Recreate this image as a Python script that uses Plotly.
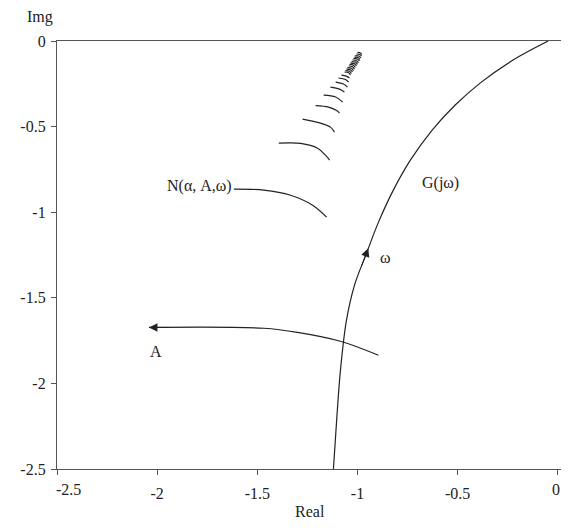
import plotly.graph_objects as go

# ---- data ----
g_real = [-1.120, -1.104, -1.085, -1.055, -1.015, -0.955, -0.895, -0.821, -0.736, -0.627, -0.512, -0.388, -0.223, -0.048]
g_imag = [-2.500, -2.216, -1.924, -1.632, -1.427, -1.240, -1.058, -0.871, -0.696, -0.520, -0.374, -0.246, -0.111, 0.000]

a_real = [-0.895, -1.085, -1.299, -1.468, -2.041]
a_imag = [-1.836, -1.754, -1.702, -1.678, -1.673]

n_real = [-1.617, -1.468, -1.334, -1.224, -1.154]
n_imag = [-0.865, -0.871, -0.901, -0.959, -1.029]

arcs_real = [
    [-1.393, -1.284, -1.199, -1.160, -1.139],
    [-1.274, -1.184, -1.135, -1.115],
    [-1.209, -1.144, -1.100, -1.090],
    [-1.169, -1.109, -1.074],
    [-1.135, -1.090, -1.065],
    [-1.109, -1.070, -1.050],
    [-1.095, -1.060, -1.044],
    [-1.080, -1.055, -1.040],
    [-1.065, -1.044, -1.035],
    [-1.060, -1.040, -1.030],
    [-1.055, -1.035, -1.025],
    [-1.050, -1.030, -1.020],
    [-1.044, -1.025, -1.015],
    [-1.040, -1.020, -1.011],
    [-1.035, -1.015, -1.005],
    [-1.030, -1.011, -1.000],
    [-1.025, -1.005, -0.995],
    [-1.020, -1.000, -0.990],
    [-1.015, -0.997, -0.988],
    [-1.011, -0.993, -0.983],
    [-1.005, -0.988, -0.980],
    [-1.000, -0.985, -0.978],
]
arcs_imag = [
    [-0.597, -0.598, -0.626, -0.667, -0.696],
    [-0.456, -0.480, -0.503, -0.532],
    [-0.377, -0.386, -0.409, -0.421],
    [-0.316, -0.327, -0.357],
    [-0.269, -0.281, -0.298],
    [-0.240, -0.251, -0.269],
    [-0.216, -0.225, -0.240],
    [-0.199, -0.205, -0.216],
    [-0.181, -0.186, -0.199],
    [-0.173, -0.177, -0.190],
    [-0.164, -0.168, -0.181],
    [-0.155, -0.159, -0.173],
    [-0.146, -0.150, -0.164],
    [-0.137, -0.142, -0.155],
    [-0.129, -0.132, -0.146],
    [-0.120, -0.123, -0.136],
    [-0.111, -0.115, -0.127],
    [-0.102, -0.105, -0.117],
    [-0.094, -0.096, -0.107],
    [-0.085, -0.088, -0.098],
    [-0.076, -0.079, -0.088],
    [-0.067, -0.070, -0.079],
]

x_ticks = [-2.5, -2, -1.5, -1, -0.5, 0]
x_ticktext = ["", "-2", "-1.5", "-1", "-0.5", ""]
y_ticks = [0, -0.5, -1, -1.5, -2, -2.5]
y_ticktext = ["0", "-0.5", "-1", "-1.5", "-2", "-2.5"]

FONT = "Liberation Serif"
LINE = "#222222"
AXC = "#555555"

fig = go.Figure()
fig.add_trace(go.Scatter(x=g_real, y=g_imag, mode="lines",
                         line=dict(color=LINE, width=1.2, shape="spline"), hoverinfo="skip"))
fig.add_trace(go.Scatter(x=a_real, y=a_imag, mode="lines",
                         line=dict(color=LINE, width=1.2, shape="spline"), hoverinfo="skip"))
fig.add_trace(go.Scatter(x=n_real, y=n_imag, mode="lines",
                         line=dict(color=LINE, width=1.2, shape="spline"), hoverinfo="skip"))
for xs, ys in zip(arcs_real, arcs_imag):
    fig.add_trace(go.Scatter(x=xs, y=ys, mode="lines",
                             line=dict(color=LINE, width=1.2, shape="spline"), hoverinfo="skip"))

ann = []
# arrowheads
ann.append(dict(x=a_real[-1], y=a_imag[-1], ax=a_real[-1] + 0.1, ay=a_imag[-1],
                xref="x", yref="y", axref="x", ayref="y", showarrow=True,
                arrowhead=2, arrowsize=1.7, arrowwidth=1, arrowcolor=LINE, text=""))
ann.append(dict(x=-0.946, y=-1.211, ax=-0.981, ay=-1.32,
                xref="x", yref="y", axref="x", ayref="y", showarrow=True,
                arrowhead=2, arrowsize=1.7, arrowwidth=1, arrowcolor=LINE, text=""))
# text labels
txt = dict(family=FONT, size=16, color="#222222")
ann.append(dict(x=-1.617, y=-0.848, xref="x", yref="y", text="N(α, A,ω)",
                showarrow=False, xanchor="right", yanchor="middle", font=txt))
ann.append(dict(x=-0.586, y=-0.830, xref="x", yref="y", text="G(jω)",
                showarrow=False, font=txt))
ann.append(dict(x=-0.860, y=-1.263, xref="x", yref="y", text="ω",
                showarrow=False, font=txt))
ann.append(dict(x=-2.007, y=-1.813, xref="x", yref="y", text="A",
                showarrow=False, font=txt))
ann.append(dict(x=-2.5, y=-2.5, xref="x", yref="y", text="-2.5", showarrow=False,
                xanchor="center", yanchor="top", xshift=11, yshift=-10, font=txt))
ann.append(dict(x=1.0, y=0, xref="paper", yref="paper", text="0", showarrow=False,
                xanchor="right", yanchor="top", xshift=-7, yshift=-10, font=txt))
ann.append(dict(x=(40 - 57) / 512, y=(469 - 17) / 428, xref="paper", yref="paper", text="Img",
                showarrow=False, font=txt, xanchor="center", yanchor="middle"))
ann.append(dict(x=(310 - 57) / 512, y=(469 - 511) / 428, xref="paper", yref="paper", text="Real",
                showarrow=False, font=txt, xanchor="center", yanchor="middle"))

fig.update_layout(
    width=561, height=513,
    margin=dict(l=49, r=0, t=33, b=52, autoexpand=False),
    paper_bgcolor="white", plot_bgcolor="white",
    showlegend=False,
    annotations=ann,
    xaxis=dict(range=[-2.5, 0.056], tickvals=x_ticks, ticktext=x_ticktext,
               ticks="outside", ticklen=5, tickcolor=AXC, showgrid=False, zeroline=False,
               showline=True, linecolor=AXC, linewidth=1.2, mirror=True,
               tickfont=txt, ticklabelstandoff=5, fixedrange=True),
    yaxis=dict(range=[-2.5, 0], tickvals=y_ticks, ticktext=y_ticktext,
               ticks="outside", ticklen=5, tickcolor=AXC, showgrid=False, zeroline=False,
               showline=True, linecolor=AXC, linewidth=1.2,
               tickfont=txt, ticklabelstandoff=2, fixedrange=True),
)

fig.write_html("out.html")
